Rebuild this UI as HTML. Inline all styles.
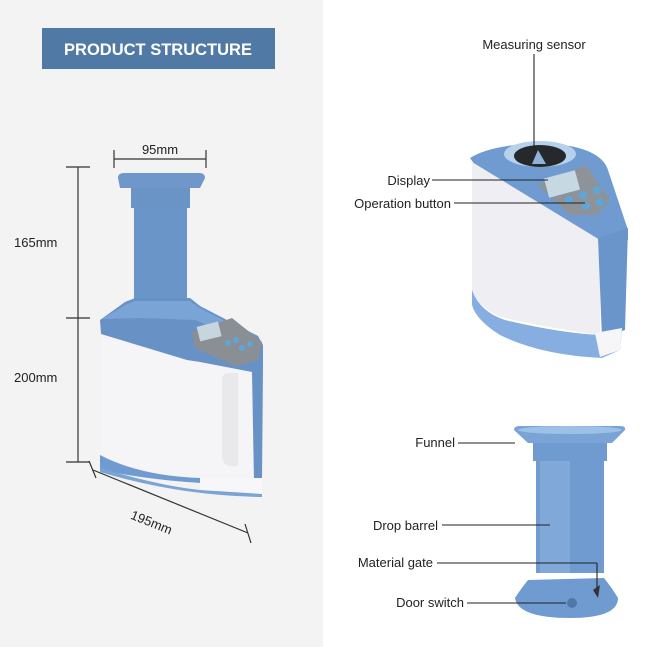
<!DOCTYPE html>
<html><head><style>
html,body{margin:0;padding:0;background:#fff}
svg{display:block}
text{font-family:"Liberation Sans",Arial,sans-serif;fill:#222}
</style></head><body>
<svg width="649" height="647" viewBox="0 0 649 647" xmlns="http://www.w3.org/2000/svg">
<rect x="0" y="0" width="323" height="647" fill="#f3f3f4"/>
<rect x="42" y="28" width="233" height="41" fill="#5079a6"/>
<text x="158" y="55" text-anchor="middle" font-size="16.5" font-weight="bold" style="fill:#fff">PRODUCT STRUCTURE</text>

<g stroke="#333" stroke-width="1.2" fill="none">
<line x1="114" y1="159" x2="206" y2="159"/><line x1="114" y1="150" x2="114" y2="168"/><line x1="206" y1="150" x2="206" y2="168"/>
<line x1="78" y1="167" x2="78" y2="462"/><line x1="66" y1="167" x2="90" y2="167"/><line x1="66" y1="318" x2="90" y2="318"/><line x1="66" y1="462" x2="90" y2="462"/>
<line x1="93" y1="470" x2="248" y2="533"/><line x1="89" y1="461" x2="96" y2="478"/><line x1="245" y1="524" x2="251" y2="543"/>
</g>
<text x="160" y="154" text-anchor="middle" font-size="13">95mm</text>
<text x="14" y="247" font-size="13">165mm</text>
<text x="14" y="382" font-size="13">200mm</text>
<text x="130" y="527" font-size="13" transform="rotate(22 152 522)">195mm</text>

<!-- left device -->
<path d="M118 178 Q118 173 124 173 L199 173 Q205 173 205 178 L200 188 L120 188 Z" fill="#6f97c9"/>
<rect x="131" y="188" width="59" height="20" fill="#6a93c6"/>
<rect x="134" y="208" width="53" height="100" fill="#6a95c9"/>
<!-- white body -->
<path d="M101 333 L262 372 L262 494 L101 470 Z" fill="#f5f5f7"/>
<!-- handle opening -->
<path d="M222 380 Q222 373 230 373 L238 373 L238 466 L232 466 Q222 466 222 455 Z" fill="#e9e9ec"/>
<!-- handle blue edge -->
<path d="M252 372 L263 366 L262 480 L254 482 Z" fill="#6892c6"/>
<!-- top cap -->
<path d="M100 320 L125 302 L135 298 L190 298 L200 306 L258 336 L263 345 L263 368 L252 372 L200 362 L187 360 L101 334 Z" fill="#6892c6"/>
<path d="M102 319 L127 304 L135 301 L190 301 L198 307 L256 337 L250 342 L195 320 L140 318 Z" fill="#7aa3d6"/>
<!-- bottom band -->
<path d="M100 455 Q140 476 200 478 L262 478 L262 484 Q180 486 100 470 Z" fill="#6f9bd0"/>
<path d="M200 478 L262 478 L262 494 L200 492 Z" fill="#f7f7f9"/>
<path d="M100 468 Q160 486 200 490 L262 494 L262 497 Q180 496 100 472 Z" fill="#7aa4d6"/>
<!-- display panel -->
<path d="M192 332 L232 318 L262 342 L258 360 L235 366 L195 348 Z" fill="#8a8f96"/>
<rect x="198" y="324" width="22" height="15" fill="#c7d5df" transform="rotate(-14 209 331)"/>
<circle cx="228" cy="343" r="3" fill="#5fa6d8"/><circle cx="236" cy="340" r="3" fill="#5fa6d8"/><circle cx="242" cy="348" r="3" fill="#5fa6d8"/><circle cx="250" cy="344" r="3" fill="#5fa6d8"/>

<!-- right top device -->
<path d="M470 158 Q490 145 540 143 Q600 145 608 170 L628 230 L628 240 L600 250 L480 172 Z" fill="#6f9bd0"/>
<path d="M472 162 L600 240 L600 335 Q560 330 505 318 Q480 310 472 290 Z" fill="#eeeef3"/>
<path d="M598 238 L628 228 L625 330 L602 338 Z" fill="#6a95ca"/>
<path d="M472 290 Q480 312 505 320 Q560 333 600 335 L622 330 L620 350 L602 358 Q540 355 500 335 Q476 320 472 305 Z" fill="#86aee0"/>
<path d="M595 333 L622 328 L620 350 L600 357 Z" fill="#f6f6f8"/>
<ellipse cx="540" cy="154" rx="36" ry="13" fill="#b7d0ec"/>
<ellipse cx="540" cy="156" rx="26" ry="11" fill="#26292c"/>
<path d="M532 164 L538 150 L546 164 Z" fill="#8fb4d8"/>
<path d="M538 185 L586 165 L610 200 L597 215 L570 215 Z" fill="#8d9399"/>
<rect x="546" y="174" width="32" height="20" fill="#c6d8e2" transform="rotate(-15 562 184)"/>
<circle cx="569" cy="200" r="4" fill="#5fa6d8"/><circle cx="583" cy="195" r="4" fill="#5fa6d8"/><circle cx="597" cy="190" r="4" fill="#5fa6d8"/><circle cx="586" cy="206" r="4" fill="#5fa6d8"/><circle cx="600" cy="202" r="4" fill="#5fa6d8"/>
<g stroke="#222" stroke-width="1.1"><line x1="534" y1="54" x2="534" y2="150"/><line x1="432" y1="180" x2="548" y2="180"/><line x1="454" y1="203" x2="585" y2="203"/></g>
<text x="534" y="49" text-anchor="middle" font-size="13">Measuring sensor</text>
<text x="430" y="185" text-anchor="end" font-size="13">Display</text>
<text x="451" y="208" text-anchor="end" font-size="13">Operation button</text>

<!-- right bottom device -->
<path d="M514 430 Q514 426 520 426 L620 426 Q626 426 625 430 L612 443 L528 443 Z" fill="#7aa4d6"/>
<ellipse cx="570" cy="430" rx="52" ry="4" fill="#9fc0e6"/>
<rect x="533" y="443" width="74" height="18" fill="#6f9bd0"/>
<rect x="536" y="461" width="68" height="112" fill="#6f9bd0"/>
<rect x="540" y="461" width="30" height="112" fill="#80a9da"/>
<path d="M528 580 Q520 590 515 598 Q518 618 570 618 Q618 618 618 598 Q612 588 604 578 Z" fill="#6f9bd0"/>
<circle cx="572" cy="603" r="5" fill="#4f79a6"/>
<path d="M593 590 L600 585 L598 598 Z" fill="#333"/>
<g stroke="#222" stroke-width="1.1"><line x1="458" y1="443" x2="515" y2="443"/><line x1="442" y1="525" x2="550" y2="525"/><line x1="437" y1="563" x2="597" y2="563"/><line x1="597" y1="563" x2="597" y2="588"/><line x1="467" y1="603" x2="566" y2="603"/></g>
<text x="455" y="447" text-anchor="end" font-size="13">Funnel</text>
<text x="438" y="530" text-anchor="end" font-size="13">Drop barrel</text>
<text x="433" y="567" text-anchor="end" font-size="13">Material gate</text>
<text x="464" y="607" text-anchor="end" font-size="13">Door switch</text>
</svg>
</body></html>
